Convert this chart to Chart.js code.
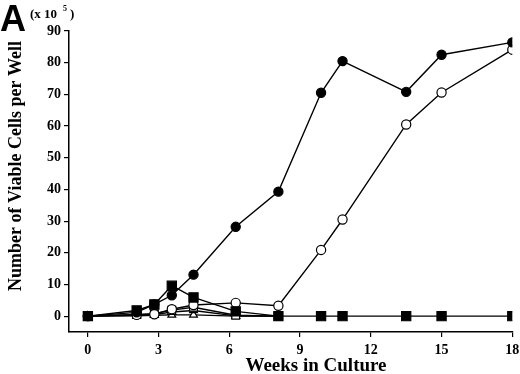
<!DOCTYPE html>
<html>
<head>
<meta charset="utf-8">
<script src="https://cdn.jsdelivr.net/npm/chart.js"></script>
<style>
  html, body { margin: 0; padding: 0; background: #fff; }
  #wrap { width: 520px; height: 374px; }
</style>
</head>
<body>
<div id="wrap"><canvas id="line-chart" width="520" height="374"></canvas></div>
<script>
// weeks in culture (x positions of the samples)
const weeks = [0, 2.07, 2.82, 3.56, 4.48, 6.27, 8.08, 9.89, 10.8, 13.5, 15, 18];

// viable cells per well (x 10^5)
const filledSquare   = [0, 1.8, 3.7, 9.6, 5.9, 1.5, 0, 0, 0, 0, 0, 0];
const filledCircle   = [0, 1.2, 3.7, 6.6, 13.1, 28.2, 39.3, 70.5, 80.5, 70.8, 82.5, 86.4];
const openCircle     = [0, 0.4, 0.6, 2.2, 3.5, 4.2, 3.3, 20.9, 30.5, 60.5, 70.6, 84.1];
const openSquare     = [0, 0.5, 0.8, 1.9, 2.8, 0.3, 0, null, null, null, null, null];
const filledTriangle = [0, 0.3, 0.5, 1.3, 1.8, 0.1, 0, null, null, null, null, null];
const openTriangle   = [0, 0.1, 0.3, 0.4, 0.4, 0, 0, null, null, null, null, null];

const xTicks = [0, 3, 6, 9, 12, 15, 18];
const yTicks = [0, 10, 20, 30, 40, 50, 60, 70, 80, 90];

function toPoints(vals) {
  const pts = [];
  vals.forEach((v, i) => { if (v !== null) pts.push({ x: weeks[i], y: v }); });
  return pts;
}

function series(vals, style, fill, radius) {
  return {
    data: toPoints(vals),
    showLine: true,
    borderColor: '#000',
    borderWidth: 1.4,
    pointStyle: style,
    pointRadius: radius,
    pointBackgroundColor: fill,
    pointBorderColor: '#000',
    pointBorderWidth: 1.2
  };
}

const serif = '"Liberation Serif", "DejaVu Serif", serif';

// extra labels: panel letter, multiplier, axis titles
const labelsPlugin = {
  id: 'labels',
  afterDraw(chart) {
    const ctx = chart.ctx;
    ctx.save();
    ctx.fillStyle = '#000';
    ctx.font = 'bold 36px "Liberation Sans", Arial, sans-serif';
    ctx.textAlign = 'left';
    ctx.textBaseline = 'alphabetic';
    ctx.fillText('A', 0, 31);

    ctx.font = 'bold 13px ' + serif;
    ctx.fillText('(x 10', 30, 18);
    ctx.font = 'bold 8px ' + serif;
    ctx.fillText('5', 63, 11);
    ctx.font = 'bold 13px ' + serif;
    ctx.fillText(')', 70, 18);

    ctx.font = 'bold 19px ' + serif;
    ctx.textAlign = 'center';
    ctx.textBaseline = 'middle';
    ctx.fillText('Weeks in Culture', 316, 366);

    ctx.translate(16, 166);
    ctx.rotate(-Math.PI / 2);
    ctx.font = 'bold 18px ' + serif;
    ctx.fillText('Number of Viable Cells per Well', 0, 0);
    ctx.restore();
  }
};

const ctx = document.getElementById('line-chart').getContext('2d');
new Chart(ctx, {
  type: 'scatter',
  data: {
    datasets: [
      series(filledSquare, 'rect', '#000', 6.5),
      series(filledCircle, 'circle', '#000', 4.6),
      series(openCircle, 'circle', '#fff', 4.6),
      series(openSquare, 'rect', '#fff', 5.5),
      series(filledTriangle, 'triangle', '#000', 4.5),
      series(openTriangle, 'triangle', '#fff', 4.5)
    ]
  },
  options: {
    responsive: false,
    animation: false,
    layout: { padding: { left: 0, right: 7, top: 31, bottom: 0 } },
    plugins: { legend: { display: false }, tooltip: { enabled: false } },
    scales: {
      x: {
        type: 'linear',
        min: -0.8,
        max: 18,
        afterBuildTicks: s => { s.ticks = xTicks.map(v => ({ value: v })); },
        afterFit: s => { s.height = 42; s.paddingLeft = 0; s.paddingRight = 0; },
        grid: { display: true, drawOnChartArea: false, drawTicks: true, tickLength: 5, color: '#000', lineWidth: 1.2 },
        border: { display: true, color: '#000', width: 1.5 },
        ticks: { color: '#000', padding: 5, maxRotation: 0, font: { family: serif, size: 14, weight: 'bold' } }
      },
      y: {
        min: -5,
        max: 90,
        afterBuildTicks: s => { s.ticks = yTicks.map(v => ({ value: v })); },
        afterFit: s => { s.width = 69; s.paddingTop = 0; s.paddingBottom = 0; },
        grid: { display: true, drawOnChartArea: false, drawTicks: true, tickLength: 5, color: '#000', lineWidth: 1.2 },
        border: { display: true, color: '#000', width: 1.5 },
        ticks: { color: '#000', padding: 3, font: { family: serif, size: 14, weight: 'bold' } }
      }
    }
  },
  plugins: [labelsPlugin]
});
</script>
</body>
</html>
